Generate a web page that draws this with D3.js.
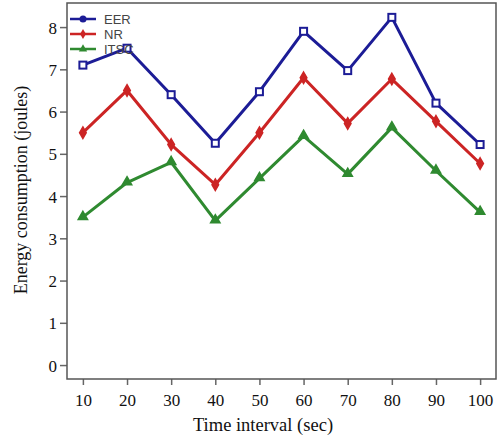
<!DOCTYPE html>
<html>
<head>
<meta charset="utf-8">
<script src="https://cdn.jsdelivr.net/npm/d3@7"></script>
<style>
  body { margin: 0; background: #fff; }
</style>
</head>
<body>
<div></div>
<script>
const width = 498;
const height = 439;

const times = [10, 20, 30, 40, 50, 60, 70, 80, 90, 100];
const eer = [7.1, 7.5, 6.4, 5.25, 6.47, 7.9, 6.97, 8.23, 6.2, 5.22];
const nr = [5.5, 6.5, 5.22, 4.27, 5.5, 6.8, 5.72, 6.77, 5.77, 4.77];
const itsc = [3.5, 4.32, 4.8, 3.42, 4.42, 5.42, 4.52, 5.62, 4.6, 3.62];
const seriesNames = ["EER", "NR", "ITSC"];
const yTicks = [0, 1, 2, 3, 4, 5, 6, 7, 8];

const margin = { left: 67, right: 2, top: 3, bottom: 60 };

const svg = d3
  .select("div")
  .append("svg")
  .attr("width", width)
  .attr("height", height);

const x = d3
  .scaleLinear()
  .domain([6.4, 103.6])
  .range([margin.left, width - margin.right]);

const y = d3
  .scaleLinear()
  .domain([-0.33, 8.57])
  .range([height - margin.bottom, margin.top]);

const colors = { EER: "#1c1c96", NR: "#cc2424", ITSC: "#2f8a30" };
const series = [
  { name: "EER", values: eer },
  { name: "NR", values: nr },
  { name: "ITSC", values: itsc },
];

// axes
const xAxis = svg
  .append("g")
  .attr("transform", "translate(0," + (height - margin.bottom) + ")")
  .call(d3.axisBottom(x).tickValues(times).tickSize(6).tickSizeOuter(0));

const yAxis = svg
  .append("g")
  .attr("transform", "translate(" + margin.left + ",0)")
  .call(d3.axisLeft(y).tickValues(yTicks).tickSize(7).tickSizeOuter(0));

[xAxis, yAxis].forEach((ax) => {
  ax.select(".domain").remove();
  ax.selectAll("line").attr("stroke", "#666").attr("stroke-width", 1.5);
  ax.selectAll("text")
    .attr("font-family", "Liberation Serif, Times New Roman, serif")
    .attr("font-size", "17px")
    .attr("fill", "#111");
});
xAxis.selectAll("text").attr("dy", "1.05em");
yAxis.selectAll("text").attr("dy", "0.35em").attr("x", -10);

// frame
svg
  .append("rect")
  .attr("x", margin.left)
  .attr("y", margin.top)
  .attr("width", width - margin.left - margin.right)
  .attr("height", height - margin.top - margin.bottom)
  .attr("fill", "none")
  .attr("stroke", "#555")
  .attr("stroke-width", 1.5);

const line = d3
  .line()
  .x((d, i) => x(times[i]))
  .y((d) => y(d));

function marker(g, name, cx, cy) {
  const c = colors[name];
  if (name === "EER") {
    g.append("rect")
      .attr("x", cx - 3.5)
      .attr("y", cy - 3.5)
      .attr("width", 7)
      .attr("height", 7)
      .attr("fill", "#fff")
      .attr("stroke", c)
      .attr("stroke-width", 2);
  } else if (name === "NR") {
    g.append("path")
      .attr("d", d3.symbol(d3.symbolDiamond, 38)())
      .attr("transform", "translate(" + cx + "," + cy + ")")
      .attr("fill", c)
      .attr("stroke", c)
      .attr("stroke-width", 1.5);
  } else {
    g.append("path")
      .attr("d", d3.symbol(d3.symbolTriangle, 38)())
      .attr("transform", "translate(" + cx + "," + (cy - 0.5) + ")")
      .attr("fill", c)
      .attr("stroke", c)
      .attr("stroke-width", 1.5);
  }
}

series.forEach((s) => {
  const g = svg.append("g");
  g.append("path")
    .datum(s.values)
    .attr("d", line)
    .attr("fill", "none")
    .attr("stroke", colors[s.name])
    .attr("stroke-width", 3)
    .attr("stroke-linejoin", "round");
  s.values.forEach((v, i) => marker(g, s.name, x(times[i]), y(v)));
});

// legend
const legend = svg.append("g").attr("transform", "translate(70,19)");
seriesNames.forEach((name, i) => {
  const row = legend.append("g").attr("transform", "translate(0," + i * 15 + ")");
  row.append("line")
    .attr("x1", 0)
    .attr("x2", 26)
    .attr("stroke", colors[name])
    .attr("stroke-width", 2.5);
  if (name === "EER") {
    row.append("circle").attr("cx", 13).attr("r", 3.5).attr("fill", colors[name]);
  } else {
    row.append("path")
      .attr("d", d3.symbol(name === "NR" ? d3.symbolDiamond : d3.symbolTriangle, 30)())
      .attr("transform", "translate(13,0)")
      .attr("fill", colors[name]);
  }
  row.append("text")
    .attr("x", 34)
    .attr("dy", "0.35em")
    .attr("font-family", "Liberation Sans, Arial, sans-serif")
    .attr("font-size", "13px")
    .attr("fill", "#444")
    .text(name);
});

// axis titles
svg.append("text")
  .attr("x", 263)
  .attr("y", 431)
  .attr("text-anchor", "middle")
  .attr("font-family", "Liberation Serif, Times New Roman, serif")
  .attr("font-size", "18.5px")
  .attr("fill", "#111")
  .text("Time interval (sec)");

svg.append("text")
  .attr("transform", "translate(27," + 190 + ") rotate(-90)")
  .attr("text-anchor", "middle")
  .attr("font-family", "Liberation Serif, Times New Roman, serif")
  .attr("font-size", "18px")
  .attr("fill", "#111")
  .text("Energy consumption (joules)");
</script>
</body>
</html>
